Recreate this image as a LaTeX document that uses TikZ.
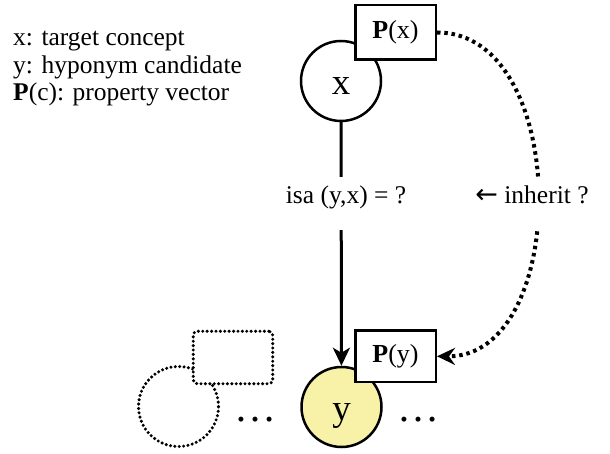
\documentclass[tikz,border=0pt]{standalone}
\usepackage{fontspec}
\setmainfont{Liberation Serif}
\newfontfamily\arrowfont{DejaVu Sans}
\usetikzlibrary{arrows.meta}

\definecolor{candfill}{RGB}{248,242,168}

\begin{document}
\begin{tikzpicture}[x=1pt,y=-1pt,
  concept/.style={circle, draw, line width=2.5pt, minimum size=80pt,
    inner sep=0pt, outer sep=1.25pt, font=\fontsize{37}{40}\selectfont,
    text height=27pt, text depth=0pt},
  propbox/.style={rectangle, draw, fill=white, line width=2.5pt,
    minimum width=80.5pt, inner sep=0pt, outer sep=1.25pt,
    font=\fontsize{26}{30}\selectfont},
  legendtext/.style={anchor=base west, inner sep=0pt,
    font=\fontsize{25.5}{28}\selectfont},
  edgetext/.style={anchor=base, inner sep=0pt, fill=white,
    text height=27pt, text depth=26pt,
    font=\fontsize{25.5}{28}\selectfont},
  dotshape/.style={draw, line width=3.4pt, dash pattern=on 0pt off 4.4pt,
    line cap=round},
  moretext/.style={inner sep=0pt, font=\fontsize{42}{44}\selectfont},
  isaarrow/.style={line width=3pt,
    -{Stealth[length=18pt, width=17pt, inset=5pt]}},
  inheritarrow/.style={line width=4pt, dash pattern=on 3.5pt off 3.8pt,
    -{Stealth[length=18pt, width=17pt, inset=6pt]}},
]
\useasboundingbox (0,0) rectangle (610,454);

% legend
\node[legendtext] (l1) at (13,46) {x: target concept};
\node[legendtext] (l2) at (13,73.5) {y: hyponym candidate};
\node[legendtext] (l3) at (13,101) {\textbf{P}(c): property vector};

% target concept and its property vector
\node[concept] (cx) at (341,81) {x};
\node[propbox, minimum height=54.5pt] (px) at (395.5,32.5) {\textbf{P}(x)};

% other candidates, only sketched
\node[concept, dotshape] (gc) at (178.5,406.5) {};
\node[dotshape, fill=white, rectangle, rounded corners=4pt, inner sep=0pt,
  minimum width=79.5pt, minimum height=52.5pt] (gb) at (233,357.5) {};
\node[moretext] (dl) at (255,420) {…};
\node[moretext] (dr) at (418,420) {…};

% hyponym candidate and its property vector
\node[concept, fill=candfill] (cy) at (341.5,407) {y};
\node[propbox, minimum height=51.5pt] (py) at (395.5,356.3) {\textbf{P}(y)};

% is-a relation
\draw[isaarrow] (cx) -- (cy);
\node[edgetext] (isa) at (346,204) {isa (y,x) = ?};

% property inheritance
\draw[inheritarrow] (px.east) .. controls (571,32) and (571,357) .. (py.east);
\node[edgetext] (inh) at (532,204)
  {{\arrowfont\fontsize{27}{30}\selectfont ←} inherit ?};
\end{tikzpicture}
\end{document}
